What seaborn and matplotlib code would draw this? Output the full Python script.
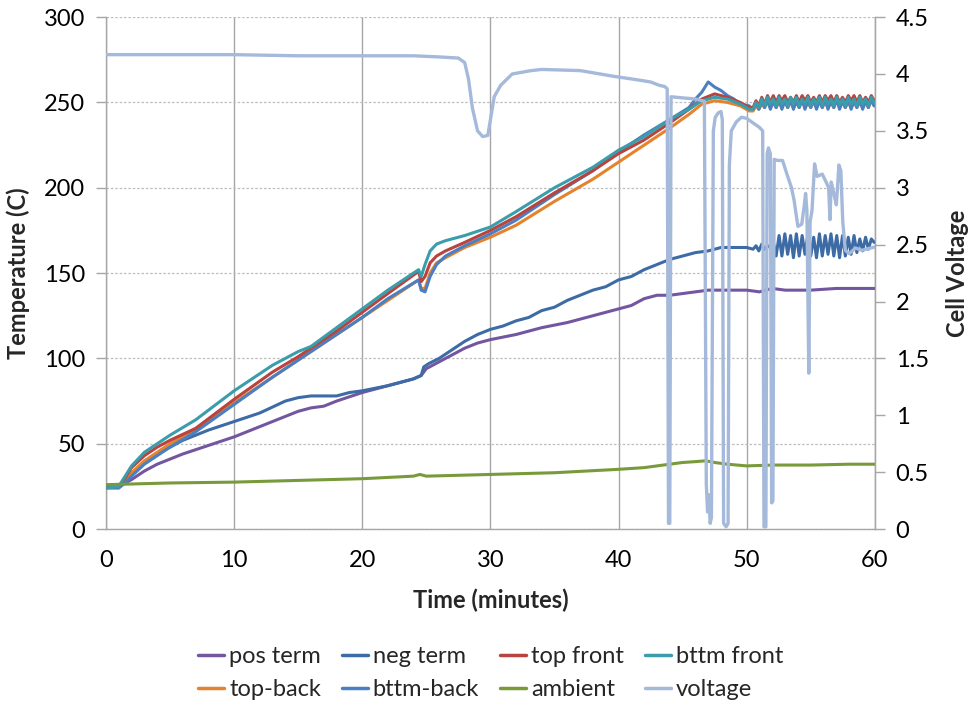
import matplotlib
matplotlib.use("Agg")
import matplotlib.pyplot as plt
import seaborn as sns
import pandas as pd
from matplotlib.lines import Line2D

# ---------------- data ----------------
osc_t = [50.50, 50.73, 50.95, 51.18, 51.40, 51.63, 51.85, 52.08, 52.30, 52.53, 52.75,
         52.98, 53.20, 53.43, 53.65, 53.88, 54.10, 54.33, 54.55, 54.78, 55.00, 55.23,
         55.45, 55.68, 55.90, 56.13, 56.35, 56.58, 56.80, 57.03, 57.25, 57.48, 57.70,
         57.93, 58.15, 58.38, 58.60, 58.83, 59.05, 59.28, 59.50, 59.73, 59.95]

cell_t = [0, 1, 1.5, 2, 3, 4, 5, 7, 10, 13, 15, 16, 18, 20, 22, 24.4, 24.6, 24.9,
          25.3, 25.8, 26.5, 28, 30, 32, 35, 38, 40, 42, 44, 45.5, 46.5, 47.5, 48.5,
          49.5, 50.2]

top_front = [25, 25, 30, 36, 43, 48, 52, 59, 76, 92, 101, 106, 116, 127, 138, 151, 145,
             148, 156, 160, 163, 168, 175, 183, 197, 210, 220, 228, 238, 246, 252, 255,
             253, 250, 247]
top_front_osc = [247, 251, 248, 253, 249, 254, 250, 254, 250, 254, 251, 254, 250, 253, 250,
                 254, 250, 254, 251, 254, 250, 253, 250, 254, 250, 254, 251, 254, 250, 254,
                 250, 253, 250, 254, 251, 254, 250, 254, 250, 253, 250, 254, 251]

bttm_front = [24, 25, 31, 37, 45, 50, 55, 64, 81, 96, 104, 107, 118, 129, 140, 152, 148,
              155, 163, 167, 169, 172, 177, 186, 200, 212, 222, 230, 240, 246, 251, 253,
              252, 249, 246]
bttm_front_osc = [246, 250, 247, 252, 248, 253, 249, 252, 248, 253, 249, 252, 248, 253, 249,
                  253, 248, 252, 249, 253, 248, 252, 249, 253, 248, 253, 249, 252, 248, 253,
                  249, 252, 248, 253, 249, 252, 248, 253, 249, 252, 248, 253, 250]

top_back = [25, 25, 28, 33, 40, 45, 50, 58, 74, 89, 99, 104, 114, 124, 134, 146, 141,
            141, 150, 156, 159, 165, 171, 178, 192, 205, 215, 225, 235, 243, 249, 251,
            250, 248, 245]
top_back_osc = [245, 248, 246, 249, 247, 250, 247, 250, 247, 250, 247, 251, 247, 250, 247,
                250, 247, 251, 247, 250, 247, 250, 247, 251, 247, 250, 247, 250, 247, 251,
                247, 250, 247, 250, 247, 251, 247, 250, 247, 250, 247, 251, 248]

bb_t = [0, 1, 1.5, 2, 3, 4, 5, 7, 10, 13, 15, 16, 18, 20, 22, 24.4, 24.6, 24.9, 25.3,
        25.8, 26.5, 28, 30, 32, 35, 38, 40, 42, 44, 45.5, 46, 46.5, 47, 47.5, 48, 48.5,
        49, 49.5, 50.2]
bttm_back = [24, 24, 27, 31, 38, 43, 48, 57, 73, 89, 99, 104, 114, 124, 135, 146, 140,
             139, 148, 155, 160, 166, 173, 181, 196, 210, 221, 231, 240, 247, 252, 256,
             262, 259, 257, 254, 252, 249, 248]
bttm_back_osc = [246, 250, 246, 251, 247, 252, 246, 251, 247, 252, 246, 251, 247, 252, 246,
                 251, 247, 252, 246, 251, 247, 252, 246, 251, 247, 252, 246, 251, 247, 252,
                 246, 251, 247, 252, 246, 251, 247, 252, 246, 251, 247, 252, 248]

neg_t = [0, 1, 1.5, 2, 3, 4, 5, 6, 8, 10, 12, 14, 15, 16, 17, 18, 19, 20, 22, 24, 24.6,
         24.8, 25.2, 26, 27, 28, 29, 30, 31, 32, 33, 34, 35, 36, 37, 38, 39, 40, 41, 42,
         43, 44, 45, 46, 47, 48, 49, 50]
neg_term = [25, 25, 28, 32, 39, 44, 48, 52, 58, 63, 68, 75, 77, 78, 78, 78, 80, 81, 84,
            88, 90, 95, 97, 100, 105, 110, 114, 117, 119, 122, 124, 128, 130, 134, 137,
            140, 142, 146, 148, 152, 155, 158, 160, 162, 163, 165, 165, 165]
neg_term_osc = [164, 166, 163, 167, 164, 166, 165, 168, 160, 172, 160, 173, 161, 172, 159,
                173, 160, 172, 161, 173, 160, 171, 159, 173, 160, 172, 161, 173, 160, 172,
                159, 172, 160, 171, 161, 172, 162, 170, 163, 171, 164, 170, 168]

pos_t = [0, 1, 2, 3, 4, 5, 6, 8, 10, 12, 14, 15, 16, 17, 18, 20, 22, 24, 24.6, 25, 26,
         27, 28, 29, 30, 32, 34, 36, 38, 40, 41, 42, 43, 44, 45, 46, 47, 48, 49, 50, 51,
         52, 53, 55, 57, 60]
pos_term = [25, 25, 29, 34, 38, 41, 44, 49, 54, 60, 66, 69, 71, 72, 75, 80, 84, 88, 90,
            94, 98, 102, 106, 109, 111, 114, 118, 121, 125, 129, 131, 135, 137, 137, 138,
            139, 140, 140, 140, 140, 139, 141, 140, 140, 141, 141]

amb_t = [0, 5, 10, 15, 20, 24, 24.5, 25, 30, 35, 40, 42, 44, 45, 46, 46.8, 47.5, 48.5,
         50, 52, 55, 58, 60]
ambient = [26, 27, 27.5, 28.5, 29.5, 31, 32, 31, 32, 33, 35, 36, 38, 39, 39.5, 40, 39,
           38, 37, 37.5, 37.5, 38, 38]

volt_t = [0, 5, 10, 15, 20, 24, 26, 27.5, 28, 28.3, 28.6, 29, 29.4, 29.8, 30.3, 30.8,
          31.7, 33.2, 34, 37, 39.6, 41.4, 42.5, 43.2, 43.6, 43.8, 43.9, 44.0, 44.1, 45,
          46, 46.7, 46.85, 46.95, 47.05, 47.15, 47.25, 47.4, 47.55, 47.8, 48.0, 48.1,
          48.2, 48.4, 48.55, 48.65, 48.8, 49.2, 49.6, 50.0, 50.5, 51.0, 51.25, 51.35,
          51.5, 51.6, 51.7, 51.85, 51.95, 52.05, 52.15, 52.4, 52.8, 53.2, 53.5, 53.7,
          54.0, 54.3, 54.5, 54.6, 54.7, 54.85, 54.95, 55.1, 55.3, 55.5, 55.9, 56.2, 56.4,
          56.5, 56.6, 56.8, 57.0, 57.2, 57.35, 57.5, 57.7, 58.0, 58.5, 59.0, 60]
voltage = [4.17, 4.17, 4.17, 4.16, 4.16, 4.16, 4.15, 4.14, 4.10, 3.95, 3.70, 3.50, 3.45,
           3.46, 3.80, 3.90, 4.00, 4.03, 4.04, 4.03, 3.98, 3.95, 3.93, 3.90, 3.89, 3.87,
           0.05, 0.05, 3.80, 3.79, 3.78, 3.76, 0.40, 0.15, 0.30, 0.05, 0.10, 3.50, 3.62,
           3.66, 3.67, 3.60, 0.05, 0.02, 0.05, 3.20, 3.50, 3.58, 3.62, 3.61, 3.57, 3.53,
           3.50, 0.02, 0.02, 3.30, 3.35, 3.30, 0.23, 0.25, 3.25, 3.24, 3.24, 3.10, 3.00,
           2.89, 2.66, 2.68, 2.85, 2.95, 2.80, 1.37, 2.70, 2.80, 3.21, 3.10, 3.12, 3.05,
           3.00, 2.72, 3.05, 2.95, 2.85, 3.20, 3.15, 2.70, 2.45, 2.42, 2.47, 2.45, 2.48]

labels = ["pos term", "neg term", "top front", "bttm front",
          "top-back", "bttm-back", "ambient", "voltage"]
colors = {"pos term": "#7356A0", "neg term": "#3D6BA6", "top front": "#B8433F",
          "bttm front": "#3B9DAB", "top-back": "#E4832E", "bttm-back": "#4A80C2",
          "ambient": "#789A3A", "voltage": "#A5B9DA"}

# ---------------- frames ----------------
temp_series = {
    "pos term": (pos_t, pos_term),
    "neg term": (neg_t + osc_t, neg_term + neg_term_osc),
    "top front": (cell_t + osc_t, top_front + top_front_osc),
    "bttm front": (cell_t + osc_t, bttm_front + bttm_front_osc),
    "top-back": (cell_t + osc_t, top_back + top_back_osc),
    "bttm-back": (bb_t + osc_t, bttm_back + bttm_back_osc),
    "ambient": (amb_t, ambient),
}
frames = []
for name, (t, v) in temp_series.items():
    frames.append(pd.DataFrame({"time": t, "value": v, "series": name}))
temp_df = pd.concat(frames, ignore_index=True)
volt_df = pd.DataFrame({"time": volt_t, "value": voltage, "series": "voltage"})

# ---------------- plot ----------------
sns.set_style("white")
FONT = "Lato"
plt.rcParams["font.family"] = [FONT, "DejaVu Sans"]

fig = plt.figure(figsize=(9.72, 7.13), dpi=100)
ax = fig.add_axes([0.109, 0.258, 0.791, 0.718])

grid_col = "#A6A6A6"
draw_order = ["pos term", "neg term", "top-back", "bttm-back", "top front",
              "bttm front", "ambient"]
for name in draw_order:
    sub = temp_df[temp_df["series"] == name]
    sns.lineplot(data=sub, x="time", y="value", ax=ax, color=colors[name],
                 lw=2.2, estimator=None, sort=False, legend=False, zorder=3)

ax.set_xlim(0, 60)
ax.set_ylim(0, 300)
ax.set_xticks(range(0, 61, 10))
ax.set_yticks(range(0, 301, 50))
ax.xaxis.grid(True, color=grid_col, lw=1.0, ls="-")
ax.yaxis.grid(True, color="#BDBDBD", lw=0.9, ls=(0, (2, 1.5)))
ax.set_axisbelow(True)
ax.spines["top"].set_visible(False)
for s in ["left", "bottom", "right"]:
    ax.spines[s].set_color(grid_col)
    ax.spines[s].set_linewidth(1.0)
ax.tick_params(axis="both", direction="out", length=7, width=1.0, color=grid_col,
               labelsize=17, labelcolor="black", pad=8)
ax.set_xlabel("Time (minutes)", fontsize=17, fontweight="bold", labelpad=13)
ax.set_ylabel("Temperature (C)", fontsize=17, fontweight="bold", labelpad=10)

ax2 = ax.twinx()
sns.lineplot(data=volt_df, x="time", y="value", ax=ax2, color=colors["voltage"],
             lw=2.4, estimator=None, sort=False, legend=False, zorder=4)
ax2.set_ylim(0, 4.5)
ax2.set_yticks([0, 0.5, 1, 1.5, 2, 2.5, 3, 3.5, 4, 4.5])
ax2.set_yticklabels(["0", "0.5", "1", "1.5", "2", "2.5", "3", "3.5", "4", "4.5"])
ax2.set_xlim(0, 60)
ax2.grid(False)
for s in ["top", "left", "bottom"]:
    ax2.spines[s].set_visible(False)
ax2.spines["right"].set_color(grid_col)
ax2.tick_params(axis="y", direction="out", length=7, width=1.0, color=grid_col,
                labelsize=17, labelcolor="black", pad=8)
ax2.set_ylabel("Cell Voltage", fontsize=17, fontweight="bold", labelpad=12)
ax2.set_xlabel("")

# legend: excel row order, matplotlib fills column-major
leg_order = ["pos term", "top-back", "neg term", "bttm-back",
             "top front", "ambient", "bttm front", "voltage"]
handles = [Line2D([0], [0], color=colors[n], lw=2.5) for n in leg_order]
fig.legend(handles, leg_order, loc="center", bbox_to_anchor=(0.505, 0.056), ncol=4,
           frameon=False, fontsize=17, handlelength=1.1, handletextpad=0.2,
           columnspacing=0.9, labelspacing=0.5)

fig.savefig("out.png", dpi=100)
